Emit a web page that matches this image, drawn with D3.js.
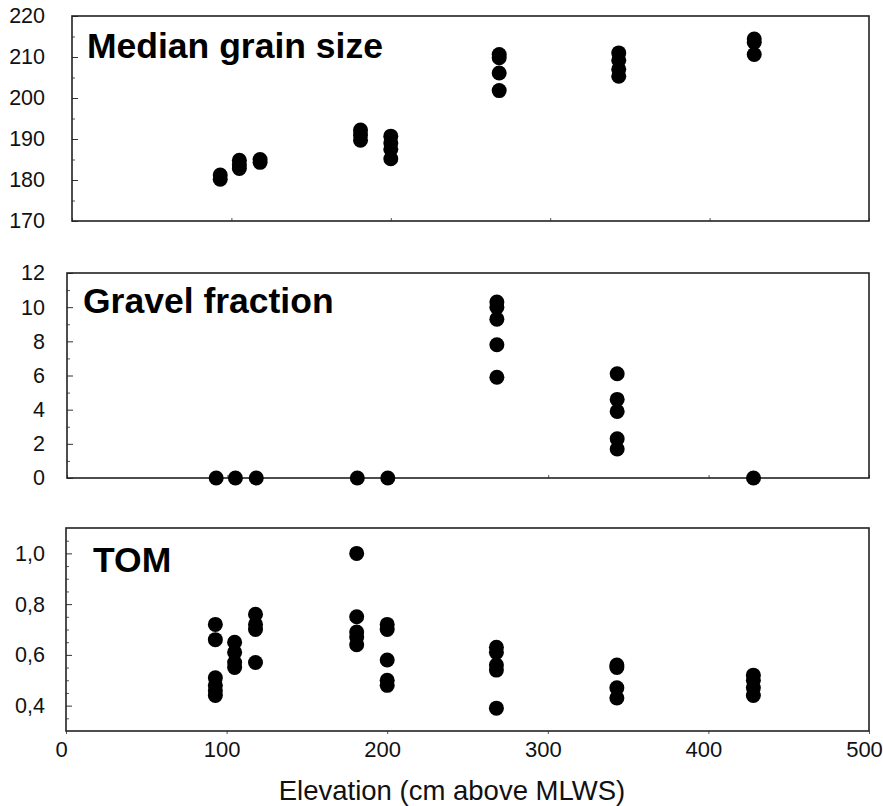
<!DOCTYPE html>
<html>
<head>
<meta charset="utf-8">
<script src="https://cdn.jsdelivr.net/npm/d3@7"></script>
<style>
  body { margin: 0; background: #fff; }
  svg { font-family: "Liberation Sans", Arial, sans-serif; }
</style>
</head>
<body>
<svg id="chart"></svg>
<script>
// elevation of each sampling station (cm above MLWS)
const elevation = [93, 105, 118, 181, 200, 268, 343, 428];

// replicate values per station, same order as elevation
const grainSize = [
  [181.2, 180.2],
  [184.8, 183.8, 182.8],
  [185, 184.3],
  [192.2, 191, 189.7],
  [190.7, 189, 187.5, 185.2],
  [210.6, 209.8, 206.1, 201.8],
  [211, 209.2, 207, 205.3],
  [214.4, 213.6, 210.6],
];
const gravel = [
  [0], [0], [0], [0], [0],
  [10.3, 10.0, 9.3, 7.8, 5.9],
  [6.1, 4.6, 3.9, 2.3, 1.7],
  [0],
];
const tom = [
  [0.72, 0.66, 0.51, 0.48, 0.46, 0.44],
  [0.65, 0.61, 0.57, 0.55],
  [0.76, 0.72, 0.70, 0.57],
  [1.0, 0.75, 0.69, 0.67, 0.64],
  [0.72, 0.70, 0.58, 0.50, 0.48],
  [0.63, 0.61, 0.56, 0.54, 0.39],
  [0.56, 0.55, 0.47, 0.43],
  [0.52, 0.50, 0.47, 0.44],
];

const grainTicks = [170, 180, 190, 200, 210, 220];
const gravelTicks = [0, 2, 4, 6, 8, 10, 12];
const tomTicks = [0.4, 0.6, 0.8, 1.0];
const xTicks = [0, 100, 200, 300, 400, 500];

const W = 883, H = 806;
const svg = d3.select("#chart").attr("width", W).attr("height", H);

const panels = [
  { title: "Median grain size", values: grainSize, domain: [170, 220], ticks: grainTicks,
    minor: d3.range(175, 220, 10), fmt: d3.format("d"),
    left: 72, top: 16, bottom: 221, titleX: 87, titleY: 58 },
  { title: "Gravel fraction", values: gravel, domain: [0, 12], ticks: gravelTicks,
    minor: d3.range(1, 12, 2), fmt: d3.format("d"),
    left: 67, top: 273, bottom: 478, titleX: 83, titleY: 313 },
  { title: "TOM", values: tom, domain: [0.3, 1.1], ticks: tomTicks,
    minor: [0.35, 0.45, 0.5, 0.55, 0.65, 0.7, 0.75, 0.85, 0.9, 0.95, 1.05],
    fmt: (d) => d3.format(".1f")(d).replace(".", ","),
    left: 66, top: 528, bottom: 731, titleX: 93, titleY: 572, xLabels: true },
];
const right = 869;
const labelRight = 45;

panels.forEach((p) => {
  const x = d3.scaleLinear().domain([0, 500]).range([p.left, right]);
  const y = d3.scaleLinear().domain(p.domain).range([p.bottom, p.top]);
  const g = svg.append("g");

  // y axis, ticks pointing inward
  g.append("g")
    .attr("transform", `translate(${p.left},0)`)
    .call(d3.axisLeft(y).tickValues(p.ticks).tickFormat(p.fmt)
      .tickSizeInner(-6).tickSizeOuter(0).tickPadding(p.left - labelRight))
    .call((a) => a.select(".domain").remove())
    .call((a) => a.selectAll("line").attr("stroke", "#333"))
    .call((a) => a.selectAll("text").attr("font-size", 21.5).attr("fill", "#111")
      .attr("font-family", "'Liberation Sans', Arial, sans-serif"));

  g.append("g")
    .attr("transform", `translate(${p.left},0)`)
    .call(d3.axisLeft(y).tickValues(p.minor).tickFormat("").tickSizeInner(-3).tickSizeOuter(0))
    .call((a) => a.select(".domain").remove())
    .call((a) => a.selectAll("line").attr("stroke", "#555"));

  // x axis ticks on bottom edge
  const xa = g.append("g")
    .attr("transform", `translate(0,${p.bottom})`)
    .call(d3.axisBottom(x).tickValues(xTicks).tickSizeInner(p.xLabels ? 3 : -3)
      .tickSizeOuter(0).tickPadding(7)
      .tickFormat(p.xLabels ? d3.format("d") : ""))
    .call((a) => a.select(".domain").remove())
    .call((a) => a.selectAll("line").attr("stroke", "#555"));
  xa.selectAll("text")
    .attr("font-size", 22)
    .attr("fill", "#111")
    .attr("dx", -5)
    .attr("font-family", "'Liberation Sans', Arial, sans-serif");

  // frame
  g.append("rect")
    .attr("x", p.left)
    .attr("y", p.top)
    .attr("width", right - p.left)
    .attr("height", p.bottom - p.top)
    .attr("fill", "none")
    .attr("stroke", "#222")
    .attr("stroke-width", 1.6);

  // points
  const pts = elevation.flatMap((e, i) => p.values[i].map((v) => ({ e, v })));
  g.append("g")
    .selectAll("circle")
    .data(pts)
    .join("circle")
    .attr("cx", (d) => x(d.e))
    .attr("cy", (d) => y(d.v))
    .attr("r", 7.5)
    .attr("fill", "#000");

  g.append("text")
    .attr("x", p.titleX)
    .attr("y", p.titleY)
    .attr("font-size", 35.5)
    .attr("font-weight", "bold")
    .attr("fill", "#000")
    .text(p.title);
});

svg.append("text")
  .attr("x", 452)
  .attr("y", 800)
  .attr("text-anchor", "middle")
  .attr("font-size", 27.5)
  .attr("fill", "#111")
  .text("Elevation (cm above MLWS)");
</script>
</body>
</html>
